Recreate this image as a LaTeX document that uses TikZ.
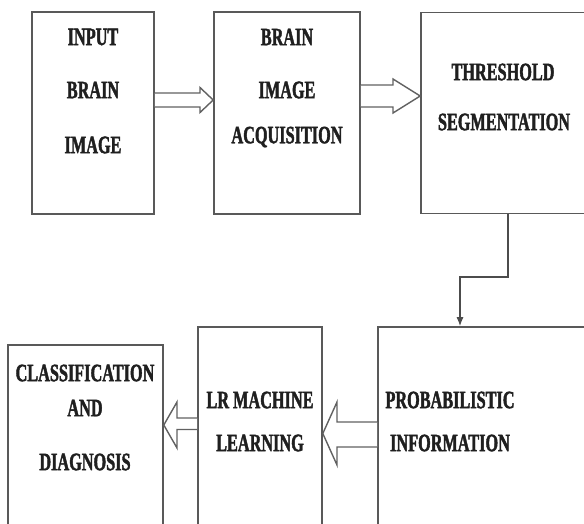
\documentclass[tikz,border=0pt]{standalone}
\usepackage{fontspec}
\newfontfamily\lblfont[FakeStretch=0.65, FakeBold=1.6, UprightFont={Liberation Serif Bold}, BoldFont={Liberation Serif Bold}]{Liberation Serif}
\usetikzlibrary{calc,arrows.meta}
\begin{document}
\begin{tikzpicture}[x=1pt,y=-1pt,
  box/.style={draw=black!65, line width=1.6pt, rectangle, inner sep=0pt},
  lbl/.style={font=\lblfont\fontsize{25}{25}\selectfont, text=black!88, inner sep=0pt, anchor=center},
  blockarrow/.style={draw=black!62, line width=1.4pt, fill=white, line join=miter},
  conn/.style={draw=black!70, line width=1.2pt, -{Latex[length=9pt,width=7pt]}}
]
\useasboundingbox (0,0) rectangle (584,523);
\clip (0,0) rectangle (584,523);
\fill[white] (0,0) rectangle (584,523);

% boxes
\node[box, minimum width=122pt, minimum height=202pt] (b1) at (93,113) {};
\node[box, minimum width=146pt, minimum height=202pt] (b2) at (287,113) {};
\node[box, minimum width=199pt, minimum height=201pt] (b3) at (520.5,113) {};
\node[box, minimum width=242pt, minimum height=233pt] (b4) at (499,443.5) {};
\node[box, minimum width=124pt, minimum height=233pt] (b5) at (260,443.5) {};
\node[box, minimum width=155pt, minimum height=215pt] (b6) at (85.5,452.5) {};

% labels
\node[lbl] (t1a) at (93,37) {INPUT};
\node[lbl] (t1b) at (93,90) {BRAIN};
\node[lbl] (t1c) at (93,145) {IMAGE};
\node[lbl] (t2a) at (287,37) {BRAIN};
\node[lbl] (t2b) at (287,90) {IMAGE};
\node[lbl] (t2c) at (287,137) {ACQUISITION};
\node[lbl] (t3a) at (503,72) {THRESHOLD};
\node[lbl] (t3b) at (504,122) {SEGMENTATION};
\node[lbl] (t4a) at (450,400) {PROBABILISTIC};
\node[lbl] (t4b) at (450,443) {INFORMATION};
\node[lbl] (t5a) at (260,400) {LR MACHINE};
\node[lbl] (t5b) at (260,443) {LEARNING};
\node[lbl] (t6a) at (85,373) {CLASSIFICATION};
\node[lbl] (t6b) at (85,408) {AND};
\node[lbl] (t6c) at (85,462) {DIAGNOSIS};

% block arrow b1 -> b2
\draw[blockarrow] (b1.east |- 0,93) -- (200,93) -- (200,87.5) -- (b2.west |- 0,100)
  -- (200,112.5) -- (200,107) -- (b1.east |- 0,107);
% block arrow b2 -> b3
\draw[blockarrow] (b2.east |- 0,85) -- (393,85) -- (393,79) -- (b3.west |- 0,96)
  -- (393,113) -- (393,107) -- (b2.east |- 0,107);
% block arrow b4 -> b5
\draw[blockarrow] (b4.west |- 0,422) -- (337,422) -- (337,402) -- (b5.east |- 0,433.5)
  -- (337,465) -- (337,447) -- (b4.west |- 0,447);
% block arrow b5 -> b6
\draw[blockarrow] (b5.west |- 0,418) -- (177,418) -- (177,402) -- (b6.east |- 0,425)
  -- (177,448) -- (177,429.5) -- (b5.west |- 0,429.5);

% connector b3 -> b4
\coordinate (c1) at (508,277);
\coordinate (c2) at (460,277);
\draw[conn] (b3.south -| c1) -- (c1) -- (c2) -- (b4.north -| c2);
\end{tikzpicture}
\end{document}
